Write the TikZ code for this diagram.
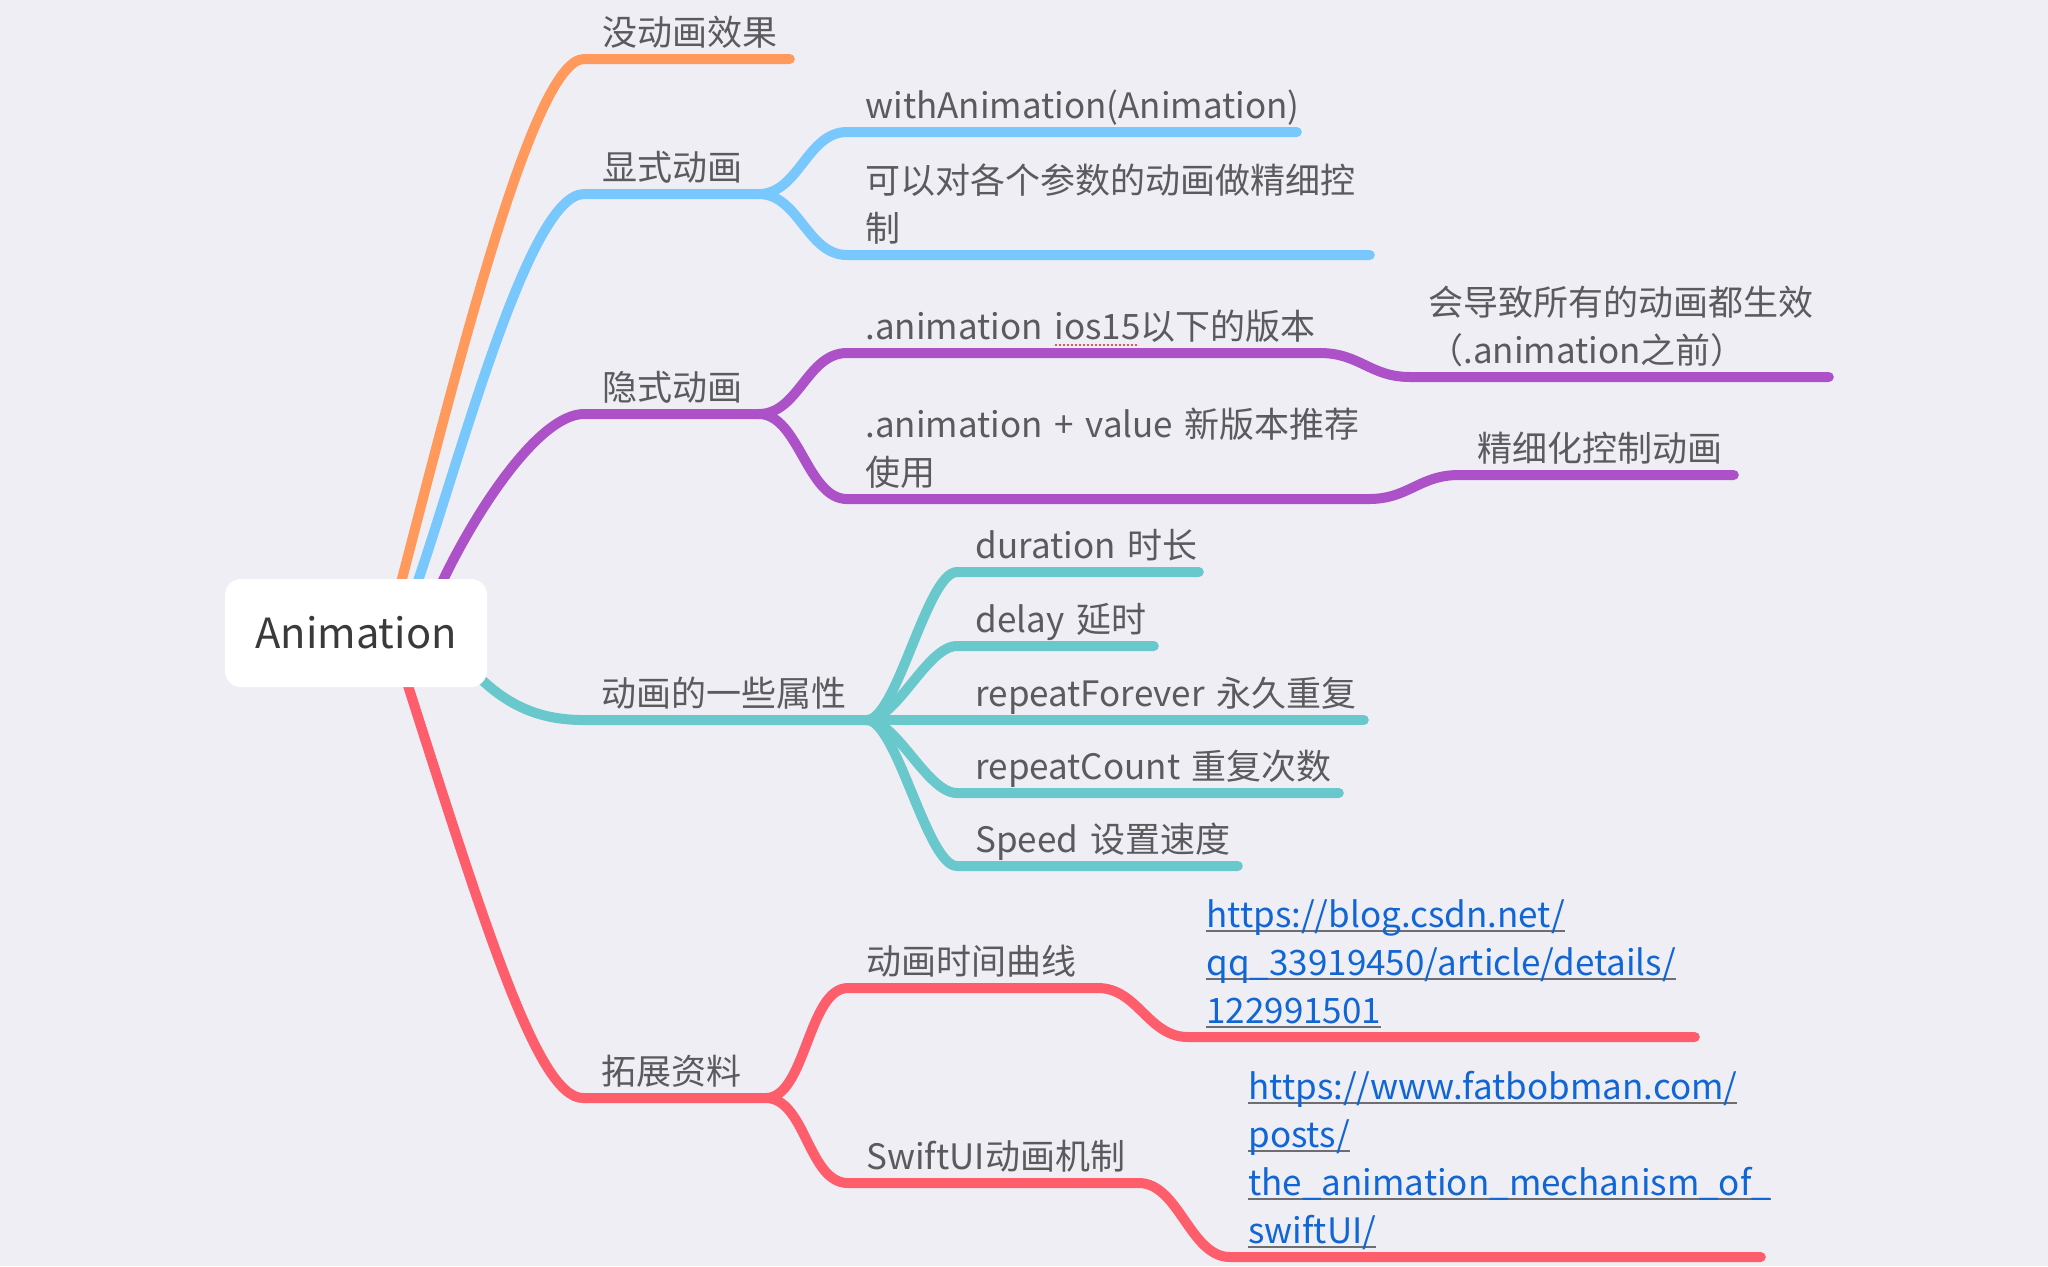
\documentclass[tikz,border=0pt]{standalone}
\usepackage{fontspec}
\setmainfont{Noto Sans CJK SC}
\usetikzlibrary{positioning,backgrounds}

\definecolor{pagebg}{HTML}{EFEEF5}
\definecolor{textgrey}{HTML}{5B5B5E}
\definecolor{rootgrey}{HTML}{3A3A3C}
\definecolor{linkblue}{HTML}{1166D6}
\definecolor{linkline}{HTML}{6E6E72}
\definecolor{spellred}{HTML}{F0505A}
\definecolor{brorange}{HTML}{FF9A5C}
\definecolor{brblue}{HTML}{79C8FD}
\definecolor{brpurple}{HTML}{AC51C7}
\definecolor{brteal}{HTML}{68C8CC}
\definecolor{brred}{HTML}{FE5E6C}

\newcommand\topicfont{\fontsize{17.5pt}{24pt}\selectfont}
\newcommand\rootfont{\fontsize{20.8pt}{26pt}\selectfont}
\newcommand\linkline[1]{\leavevmode\setbox0\hbox{#1}\rlap{\color{linkline}\rule[-2.2pt]{\wd0}{1pt}}\box0}
\newcommand\spellmark[1]{\leavevmode\setbox0\hbox{#1}\rlap{\color{spellred}\raisebox{-3pt}{\leaders\hbox to 2pt{\hss\rule{1pt}{1pt}\hss}\hskip\wd0}}\box0}

\begin{document}
\begin{tikzpicture}
	[
	 %Styles
	 x=0.5pt, y=-0.5pt,
	 root_node/.style={rectangle, rounded corners=8pt, fill=white, inner sep=0pt,
	   minimum width=131pt, minimum height=54pt, font=\rootfont, text=rootgrey},
	 topic_node/.style={rectangle, anchor=south west, inner xsep=9pt, inner ysep=2.5pt,
	   align=left, text width=#1, font=\topicfont, text=textgrey,
	   execute at end node={\rule[-4pt]{0pt}{4pt}}},
	 link_node/.style={topic_node=#1, text=linkblue},
	 branch/.style={draw=#1, line width=5pt, line cap=round, line join=round},
	 curve_to/.style={to path={.. controls +(#1,0) and +(-#1,0) .. (\tikztotarget)}},
	 curve_to/.default=40
	]
	\useasboundingbox (0,0) rectangle (2048,1266);

	%Root
	\node (root) [root_node] at (356,633) {Animation};

	%Level 1
	\node (noanim)   [topic_node=84.5pt]  at (584,59)   {没动画效果};
	\node (explicit) [topic_node=69pt]    at (584,194)  {显式动画};
	\node (implicit) [topic_node=69pt]    at (584,414)  {隐式动画};
	\node (props)    [topic_node=123.5pt] at (583,720)  {动画的一些属性};
	\node (extra)    [topic_node=73pt]    at (583,1098) {拓展资料};

	%Level 2
	\node (withanim) [topic_node=206.5pt] at (847,132) {withAnimation(Animation)};
	\node (finectl)  [topic_node=243pt]   at (847,255) {可以对各个参数的动画做精细控\\制};
	\node (oldanim)  [topic_node=218pt]   at (847,353) {.animation~\spellmark{ios15}以下的版本};
	\node (newanim)  [topic_node=242.5pt] at (847,499) {.animation~+~value~新版本推荐\\使用};
	\node (dur)      [topic_node=102.5pt] at (957,572) {duration~时长};
	\node (delay)    [topic_node=80pt]    at (957,646) {delay~延时};
	\node (forever)  [topic_node=185pt]   at (957,720) {repeatForever~永久重复};
	\node (count)    [topic_node=172.5pt] at (957,793) {repeatCount~重复次数};
	\node (speed)    [topic_node=122pt]   at (957,866) {Speed~设置速度};
	\node (timing)   [topic_node=106.5pt] at (848,988) {动画时间曲线};
	\node (mech)     [topic_node=127pt]   at (848,1183) {SwiftUI动画机制};

	%Level 3
	\node (alleffect) [topic_node=191pt] at (1410,377) {会导致所有的动画都生效\\（.animation之前）};
	\node (finer)     [topic_node=119pt] at (1459,475) {精细化控制动画};
	\node (csdn)   [link_node=235pt] at (1188,1037)
	  {\linkline{https://blog.csdn.net/}\\\linkline{qq\_33919450/article/details/}\\\linkline{122991501}};
	\node (fatbob) [link_node=247pt] at (1230,1257)
	  {\linkline{https://www.fatbobman.com/}\\\linkline{posts/}\\\linkline{the\_animation\_mechanism\_of\_}\\\linkline{swiftUI/}};

	%Branches
	\begin{scope}[on background layer]
	  \fill[pagebg] (0,0) rectangle (2048,1266);
	  % from the root
	  \draw[branch=brorange] ([xshift=22pt,yshift=-4pt]root.north) .. controls +(60,-230) and +(-50,0) .. (noanim.south west) -- (noanim.south east);
	  \draw[branch=brblue] ([xshift=30pt,yshift=-4pt]root.north) .. controls +(45,-130) and +(-55,0) .. (explicit.south west) -- (explicit.south east);
	  \draw[branch=brpurple] ([xshift=42pt,yshift=-4pt]root.north) .. controls +(35,-75) and +(-45,0) .. (implicit.south west) -- (implicit.south east);
	  \draw[branch=brteal] ([xshift=-8.5pt,yshift=9.5pt]root.south east) .. controls +(30,32) and +(-50,0) .. (props.south west) -- (props.south east);
	  \draw[branch=brred] ([xshift=25pt,yshift=4pt]root.south) .. controls +(80,250) and +(-45,0) .. (extra.south west) -- (extra.south east);
	  % explicit
	  \draw[branch=brblue] (explicit.south east) to[curve_to] (withanim.south west) -- (withanim.south east);
	  \draw[branch=brblue] (explicit.south east) to[curve_to] (finectl.south west) -- (finectl.south east);
	  % implicit
	  \draw[branch=brpurple] (implicit.south east) to[curve_to] (oldanim.south west) -- (oldanim.south east)
	    to[curve_to] (alleffect.south west) -- (alleffect.south east);
	  \draw[branch=brpurple] (implicit.south east) to[curve_to] (newanim.south west) -- (newanim.south east)
	    to[curve_to] (finer.south west) -- (finer.south east);
	  % properties
	  \draw[branch=brteal] (props.south east) to[curve_to=30] (dur.south west) -- (dur.south east);
	  \draw[branch=brteal] (props.south east) to[curve_to=30] (delay.south west) -- (delay.south east);
	  \draw[branch=brteal] (props.south east) -- (forever.south west) -- (forever.south east);
	  \draw[branch=brteal] (props.south east) to[curve_to=30] (count.south west) -- (count.south east);
	  \draw[branch=brteal] (props.south east) to[curve_to=30] (speed.south west) -- (speed.south east);
	  % extra material
	  \draw[branch=brred] (extra.south east) to[curve_to] (timing.south west) -- (timing.south east)
	    to[curve_to] (csdn.south west) -- (csdn.south east);
	  \draw[branch=brred] (extra.south east) to[curve_to] (mech.south west) -- (mech.south east)
	    to[curve_to] (fatbob.south west) -- (fatbob.south east);
	\end{scope}
\end{tikzpicture}
\end{document}
